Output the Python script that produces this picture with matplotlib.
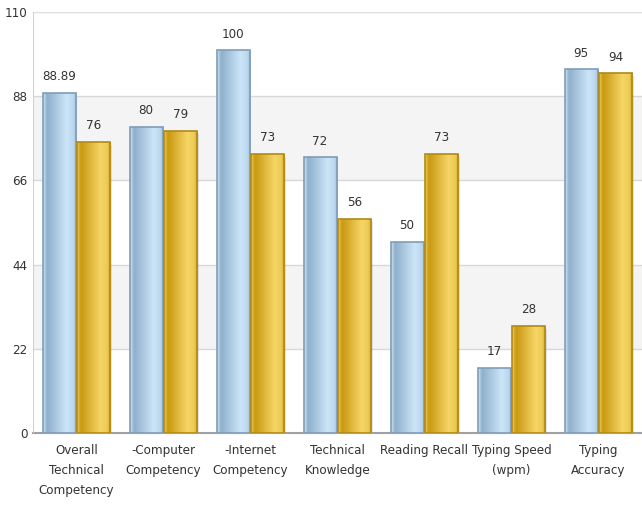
import matplotlib
matplotlib.use("Agg")
import matplotlib.pyplot as plt
import numpy as np
from matplotlib.colors import LinearSegmentedColormap
from matplotlib.patches import Rectangle
from matplotlib import font_manager

categories = ["Overall\nTechnical\nCompetency", "-Computer\nCompetency", "-Internet\nCompetency",
              "Technical\nKnowledge", "Reading Recall", "Typing Speed\n(wpm)", "Typing\nAccuracy"]
series_a = [88.89, 80, 100, 72, 50, 17, 95]
series_b = [76, 79, 73, 56, 73, 28, 94]
label_a = ["88.89", "80", "100", "72", "50", "17", "95"]
label_b = ["76", "79", "73", "56", "73", "28", "94"]
yticks = [0, 22, 44, 66, 88, 110]

fl = font_manager.fontManager.ttflist
names = {f.name for f in fl}
dv_cond = any(f.name == "DejaVu Sans" and f.stretch == "condensed" for f in fl)
fstretch = "normal"
if "Liberation Sans Narrow" in names:
    fam, fs = "Liberation Sans Narrow", 10.5
elif dv_cond:
    fam, fs, fstretch = "DejaVu Sans", 9.5, "condensed"
elif "Roboto Condensed" in names:
    fam, fs = "Roboto Condensed", 10.0
else:
    fam, fs = "Roboto", 9.2
plt.rcParams['font.family'] = [fam, 'DejaVu Sans']
plt.rcParams['font.stretch'] = fstretch

fig = plt.figure(figsize=(6.42, 5.14), dpi=100)
ax = fig.add_axes([33/642, 81/514, 609/642, 421/514])

# alternating bands
for i in range(len(yticks) - 1):
    if i % 2 == 1:
        ax.axhspan(yticks[i], yticks[i+1], color="#f4f4f4", zorder=0, lw=0)
for t in yticks[1:]:
    ax.axhline(t, color="#d8d8d8", lw=1, zorder=1)

blue_cmap = LinearSegmentedColormap.from_list("b", [
    (0.0, "#d6e8f5"), (0.06, "#a9c6de"), (0.12, "#8fb0cc"), (0.7, "#cbe5f8"),
    (0.9, "#bcd8ee"), (1.0, "#9dbcd6")])
gold_cmap = LinearSegmentedColormap.from_list("g", [
    (0.0, "#f2d575"), (0.06, "#d8aa25"), (0.12, "#c99a12"), (0.7, "#f6d566"),
    (0.9, "#eccb55"), (1.0, "#d0a52a")])
grad = np.linspace(0, 1, 64).reshape(1, -1)

x = np.arange(len(categories))
w = 0.38
off = 0.2
for vals, labs, cmap, edge, sgn in [(series_a, label_a, blue_cmap, "#7f9db8", -1),
                                    (series_b, label_b, gold_cmap, "#b08a14", 1)]:
    bars = ax.bar(x + sgn*off, vals, width=w, facecolor="none", edgecolor=edge, lw=1.2, zorder=4)
    for b, lab in zip(bars, labs):
        x0, h = b.get_x(), b.get_height()
        # shadow
        ax.add_patch(Rectangle((x0 + 0.02, -0.8), w, h, facecolor="#000000", alpha=0.10, lw=0, zorder=2))
        im = ax.imshow(grad, extent=[x0, x0 + w, 0, h], aspect="auto", cmap=cmap, zorder=3,
                       interpolation="bilinear")
        clip = Rectangle((x0, 0), w, h, transform=ax.transData)
        im.set_clip_path(clip)
        ax.annotate(lab, (x0 + w/2, h), xytext=(0, 7), textcoords="offset points",
                    ha="center", va="bottom", fontsize=fs, color="#333333")

ax.set_xlim(-0.5, len(categories) - 0.5)
ax.set_ylim(0, 110)
ax.set_yticks(yticks)
ax.set_yticklabels([str(t) for t in yticks], fontsize=fs, color="#333333")
ax.set_xticks(x)
ax.set_xticklabels(categories, fontsize=fs, color="#333333", linespacing=1.7)
ax.tick_params(axis="both", length=0, pad=4)
ax.tick_params(axis="x", pad=8)
for s in ["left", "right"]:
    ax.spines[s].set_visible(False)
ax.spines["top"].set_color("#e0e0e0")
ax.spines["bottom"].set_color("#a0a0a0")
ax.spines["bottom"].set_linewidth(1.5)
ax.axvline(-0.5, color="#d0d0d0", lw=1.5, zorder=5)

fig.savefig("out.png", dpi=100)
